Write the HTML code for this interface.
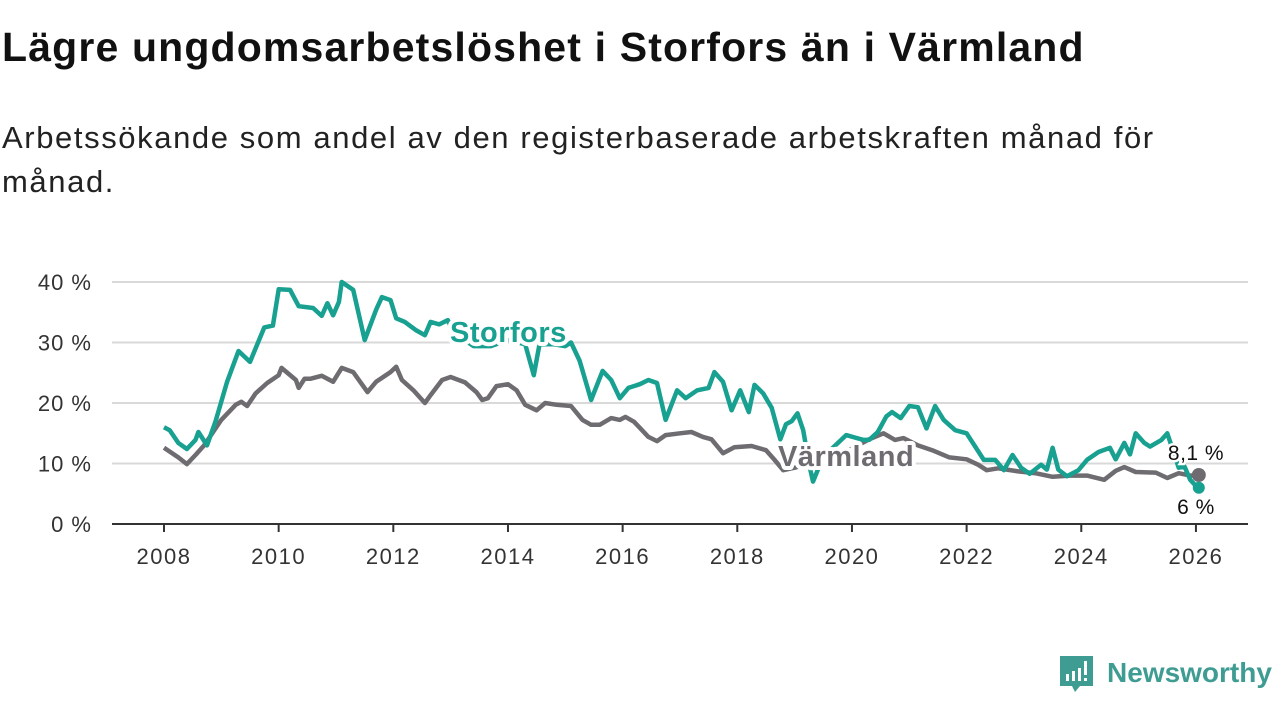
<!DOCTYPE html>
<html><head><meta charset="utf-8"><style>
body{margin:0;width:1280px;height:720px;background:#fff;overflow:hidden;font-family:"Liberation Sans","DejaVu Sans",sans-serif;}
#title{position:absolute;left:2px;top:24px;font-size:41px;font-weight:bold;color:#111;margin:0;letter-spacing:1.15px;white-space:nowrap}
#sub{position:absolute;left:2px;top:116px;font-size:31px;color:#222;line-height:44px;width:1200px;letter-spacing:1.6px}
svg{position:absolute;left:0;top:0}
</style></head><body>
<h1 id="title">Lägre ungdomsarbetslöshet i Storfors än i Värmland</h1>
<div id="sub">Arbetssökande som andel av den registerbaserade arbetskraften månad för månad.</div>
<svg id="chart" width="1280" height="720"></svg>
<script>
const yTicks=[0,10,20,30,40];
const xTicks=[2008,2010,2012,2014,2016,2018,2020,2022,2024,2026];
const storforsT=[2008,2008.1,2008.25,2008.4,2008.55,2008.6,2008.75,2008.9,2009.1,2009.3,2009.5,2009.75,2009.9,2010,2010.2,2010.35,2010.6,2010.75,2010.85,2010.95,2011.05,2011.1,2011.3,2011.5,2011.7,2011.8,2011.95,2012.05,2012.2,2012.4,2012.55,2012.65,2012.8,2012.95,2013.05,2013.4,2013.7,2014,2014.3,2014.45,2014.55,2014.8,2015,2015.1,2015.25,2015.45,2015.65,2015.8,2015.95,2016.1,2016.3,2016.45,2016.6,2016.75,2016.95,2017.1,2017.3,2017.5,2017.6,2017.75,2017.9,2018.05,2018.2,2018.3,2018.45,2018.6,2018.75,2018.85,2018.95,2019.05,2019.15,2019.25,2019.32,2019.45,2019.6,2019.9,2020.05,2020.2,2020.3,2020.45,2020.6,2020.7,2020.85,2021,2021.15,2021.3,2021.45,2021.6,2021.8,2022,2022.3,2022.5,2022.65,2022.8,2022.95,2023.1,2023.3,2023.4,2023.5,2023.6,2023.75,2023.95,2024.1,2024.3,2024.5,2024.6,2024.75,2024.85,2024.95,2025.1,2025.2,2025.4,2025.5,2025.7,2025.8,2025.9,2026,2026.05];
const storforsV=[16,15.5,13.4,12.4,13.9,15.2,13,17,23.5,28.6,26.8,32.5,32.8,38.8,38.7,36,35.7,34.4,36.5,34.5,36.7,40,38.7,30.4,35.4,37.5,37,34,33.4,32,31.2,33.4,33,33.7,31.7,29.4,29.4,30.4,29.7,24.6,29.7,29.7,29.4,30,27,20.5,25.3,23.8,20.8,22.5,23.1,23.8,23.3,17.2,22.1,20.8,22.1,22.5,25.1,23.5,18.8,22.1,18.5,23,21.6,19.2,14,16.5,17,18.3,15.5,10,7,10,12,14.7,14.3,13.9,13.9,15.2,17.8,18.5,17.5,19.5,19.3,15.8,19.5,17.2,15.5,15,10.6,10.6,8.9,11.4,9.3,8.3,9.8,9,12.6,9,7.9,8.9,10.6,11.9,12.6,10.7,13.4,11.5,15,13.4,12.8,13.9,15,9.3,9.5,7.3,6.3,6];
const varmlandT=[2008,2008.25,2008.4,2008.55,2008.7,2009,2009.25,2009.35,2009.45,2009.6,2009.8,2010,2010.05,2010.3,2010.35,2010.45,2010.55,2010.75,2010.95,2011.1,2011.3,2011.55,2011.7,2011.95,2012.05,2012.15,2012.35,2012.55,2012.65,2012.85,2013,2013.25,2013.45,2013.55,2013.65,2013.8,2014,2014.15,2014.3,2014.5,2014.65,2014.85,2015.1,2015.3,2015.45,2015.6,2015.8,2015.95,2016.05,2016.2,2016.45,2016.6,2016.75,2017,2017.2,2017.4,2017.55,2017.75,2017.95,2018.25,2018.5,2018.65,2018.8,2019,2019.2,2019.5,2019.8,2020.1,2020.3,2020.55,2020.75,2020.9,2021.15,2021.4,2021.7,2022,2022.2,2022.35,2022.55,2022.9,2023.2,2023.5,2023.8,2024.1,2024.4,2024.6,2024.75,2024.95,2025.3,2025.5,2025.7,2025.9,2026.05];
const varmlandV=[12.6,11,9.9,11.4,13,17.2,19.7,20.2,19.5,21.6,23.3,24.6,25.8,23.8,22.5,24,24,24.5,23.5,25.8,25.1,21.8,23.5,25.1,26,23.8,22.1,20,21.3,23.8,24.3,23.4,21.8,20.5,20.8,22.8,23.1,22.1,19.7,18.8,20,19.7,19.5,17.2,16.4,16.4,17.5,17.2,17.7,16.9,14.4,13.7,14.7,15,15.2,14.4,14,11.7,12.7,12.9,12.2,10.6,8.9,9.3,9.8,10.5,11.5,13,14,15,13.9,14.2,13,12.2,11,10.7,9.8,8.9,9.2,8.7,8.4,7.8,8,8,7.3,8.8,9.4,8.6,8.5,7.6,8.4,8,8.1];
const NS='http://www.w3.org/2000/svg';
const svg=document.getElementById('chart');
const X=y=>164+(y-2008)*57.33;
const Y=v=>524-v*6.05;
function mk(tag,attrs,parent){const e=document.createElementNS(NS,tag);for(const k in attrs)e.setAttribute(k,attrs[k]);(parent||svg).appendChild(e);return e;}
yTicks.forEach(t=>{
  if(t>0){const g=mk('line',{x1:112,x2:1248,y1:Y(t),y2:Y(t),stroke:'#d9d9d9','stroke-width':2});
  
  }
  const l=mk('text',{x:92,y:Y(t)+8,'text-anchor':'end','font-size':22,'letter-spacing':1,fill:'#333'});
  l.textContent=t+' %';
  
  
});
const ax=mk('line',{x1:112,x2:1248,y1:524,y2:524,stroke:'#333','stroke-width':2});


xTicks.forEach(t=>{
  const tk=mk('line',{x1:X(t),x2:X(t),y1:524,y2:532,stroke:'#333','stroke-width':2});
  
  
  const l=mk('text',{x:X(t),y:564,'text-anchor':'middle','font-size':22,'letter-spacing':1.5,fill:'#333'});
  l.textContent=t;
  
  
});
function line(T,V,color,name){
  const d=T.map((t,i)=>(i?'L':'M')+X(t).toFixed(1)+','+Y(V[i]).toFixed(1)).join('');
  const p=mk('path',{d:d,fill:'none',stroke:color,'stroke-width':4.5,'stroke-linejoin':'round'});
  
  
}
line(varmlandT,varmlandV,'#6e6c70','varmland-line');
line(storforsT,storforsV,'#18a091','storfors-line');
function label(txt,x,y,color,name){
  const h=mk('text',{x:x,y:y,'font-size':29,'font-weight':'bold','letter-spacing':0.5,fill:'#fff',stroke:'#fff','stroke-width':8,'stroke-linejoin':'round'});
  h.textContent=txt;
  
  
  const t=mk('text',{x:x,y:y,'font-size':29,'font-weight':'bold','letter-spacing':0.5,fill:color});
  t.textContent=txt;
  
  
}
label('Storfors',450,342,'#18a091','storfors-label');
label('Värmland',778,466,'#6e6c70','varmland-label');
const lv=varmlandV.length-1, ls=storforsV.length-1;
const d1=mk('circle',{cx:X(varmlandT[lv]),cy:Y(varmlandV[lv]),r:7,fill:'#6e6c70'});


const d2=mk('circle',{cx:X(storforsT[ls]),cy:Y(storforsV[ls]),r:6,fill:'#18a091'});


function endLbl(txt,x,y,name){
  const h=mk('text',{x:x,y:y,'text-anchor':'middle','font-size':21,'letter-spacing':0.5,fill:'#fff',stroke:'#fff','stroke-width':5});
  h.textContent=txt;
  
  
  const t=mk('text',{x:x,y:y,'text-anchor':'middle','font-size':21,'letter-spacing':0.5,fill:'#111'});
  t.textContent=txt;
  
  
}
endLbl('8,1 %',1196,460,'varmland-end-value');
endLbl('6 %',1196,514,'storfors-end-value');
const lg=mk('g',{});


mk('path',{d:'M1060 656h33v30h-13l-5 6l-3-6h-12z',fill:'#3f9c93'},lg);
mk('rect',{x:1066,y:674,width:3,height:7,fill:'#fff'},lg);
mk('rect',{x:1072,y:671,width:3,height:10,fill:'#fff'},lg);
mk('rect',{x:1078,y:668,width:3,height:13,fill:'#fff'},lg);
mk('rect',{x:1084,y:661,width:3,height:14,fill:'#fff'},lg);
mk('rect',{x:1084,y:678,width:3,height:3,fill:'#fff'},lg);
const lt=mk('text',{x:1107,y:682,'font-size':28,'font-weight':'bold',fill:'#3f9c93'},lg);
lt.textContent='Newsworthy';
</script>
</body></html>
